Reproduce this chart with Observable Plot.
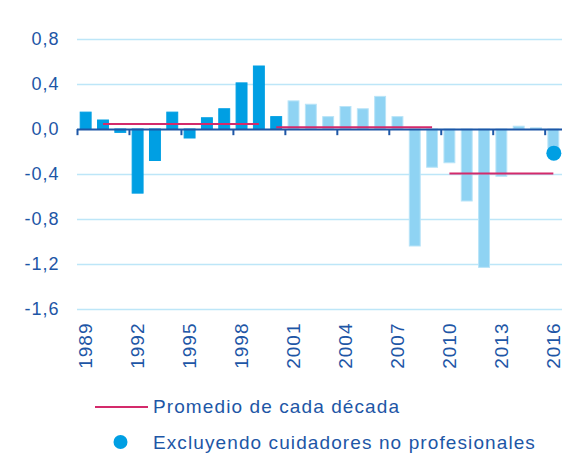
<!DOCTYPE html>
<html>
<head>
<meta charset="utf-8">
<script src="https://cdn.jsdelivr.net/npm/d3@7"></script>
<script src="https://cdn.jsdelivr.net/npm/@observablehq/plot@0.6"></script>
<style>
  body { margin: 0; background: #fff; }
  #wrap { width: 582px; height: 468px; position: relative; font-family: "Liberation Sans", Arial, sans-serif; }
  svg text { letter-spacing: 1px; }
</style>
</head>
<body>
<div id="wrap"></div>
<script>
const years = d3.range(1989, 2017);
const values = [0.15, 0.08, -0.03, -0.57, -0.28, 0.15, -0.08, 0.10, 0.18, 0.41,
                0.56, 0.11, 0.25, 0.22, 0.11, 0.20, 0.18, 0.29, 0.11, -1.04,
                -0.34, -0.30, -0.64, -1.23, -0.42, 0.025, 0.01, -0.17];
const darkUntil = 2000;
const decadeStart = [1990, 2000, 2010];
const decadeEnd = [1999, 2009, 2016];
const decadeAvg = [0.05, 0.02, -0.39];
const excludingYear = [2016];
const excludingValue = [-0.21];
const yTicks = [0.8, 0.4, 0.0, -0.4, -0.8, -1.2, -1.6];
const xTickYears = [1989, 1992, 1995, 1998, 2001, 2004, 2007, 2010, 2013, 2016];
const legendLabels = ["Promedio de cada década", "Excluyendo cuidadores no profesionales"];

const navy = "#1d56a6";
const dark = "#009fe3";
const light = "#8fd3f3";
const pink = "#d42a6b";
const grid = "#bde6f8";

const data = years.map((y, i) => ({year: y, value: values[i]}));
const decades = decadeStart.map((s, i) => ({s, e: decadeEnd[i], v: decadeAvg[i]}));
const excl = excludingYear.map((y, i) => ({year: y, value: excludingValue[i]}));

const fmt = d => d.toFixed(1).replace(".", ",");

const chart = Plot.plot({
  width: 582,
  height: 380,
  marginTop: 39,
  marginBottom: 71,
  marginLeft: 77,
  marginRight: 20,
  style: {fontFamily: "Liberation Sans, Arial, sans-serif", fontSize: "18px", color: navy, background: "#fff"},
  x: {domain: [1988.5, 2016.5], axis: null},
  y: {domain: [-1.6, 0.8], ticks: yTicks, tickFormat: fmt, tickSize: 0, tickPadding: 18, label: null},
  marks: [
    Plot.ruleY(yTicks.filter(d => d !== 0), {stroke: grid, strokeWidth: 1.6}),
    Plot.rectY(data, {
      x1: d => d.year - 0.5, x2: d => d.year + 0.5, y1: 0, y2: "value",
      insetLeft: 3.2, insetRight: 3.2,
      fill: d => d.year <= darkUntil ? dark : light,
      stroke: d => d.year <= darkUntil ? dark : "#b9e4f8",
      strokeWidth: 1
    }),
    Plot.ruleY([0], {stroke: navy, strokeWidth: 2}),
    Plot.ruleX(xTickYears, {x: d => d - 0.5, y1: 0, y2: -0.055, stroke: navy, strokeWidth: 2}),
    Plot.ruleY(decades, {x1: "s", x2: "e", y: "v", stroke: pink, strokeWidth: 2}),
    Plot.dot(excl, {x: "year", y: "value", r: 7.5, fill: dark, stroke: "none"}),
    Plot.text(xTickYears, {
      x: d => d, y: -1.6, dy: 13, rotate: -90,
      textAnchor: "end", lineAnchor: "middle",
      text: d => String(d), fontSize: 19, fill: navy
    })
  ]
});
document.getElementById("wrap").appendChild(chart);

// legend below the chart
const leg = d3.select("#wrap").append("svg")
  .attr("width", 582).attr("height", 88)
  .style("display", "block");
leg.append("line").attr("x1", 95).attr("x2", 148).attr("y1", 27).attr("y2", 27)
  .attr("stroke", pink).attr("stroke-width", 2);
leg.append("circle").attr("cx", 120.5).attr("cy", 62).attr("r", 7).attr("fill", dark);
leg.selectAll("text.l").data(legendLabels).join("text")
  .attr("x", 153).attr("y", (d, i) => i === 0 ? 33 : 69)
  .attr("fill", navy)
  .style("font-family", "Liberation Sans, Arial, sans-serif")
  .style("font-size", "19px")
  .style("letter-spacing", "1.1px")
  .text(d => d);
</script>
</body>
</html>
